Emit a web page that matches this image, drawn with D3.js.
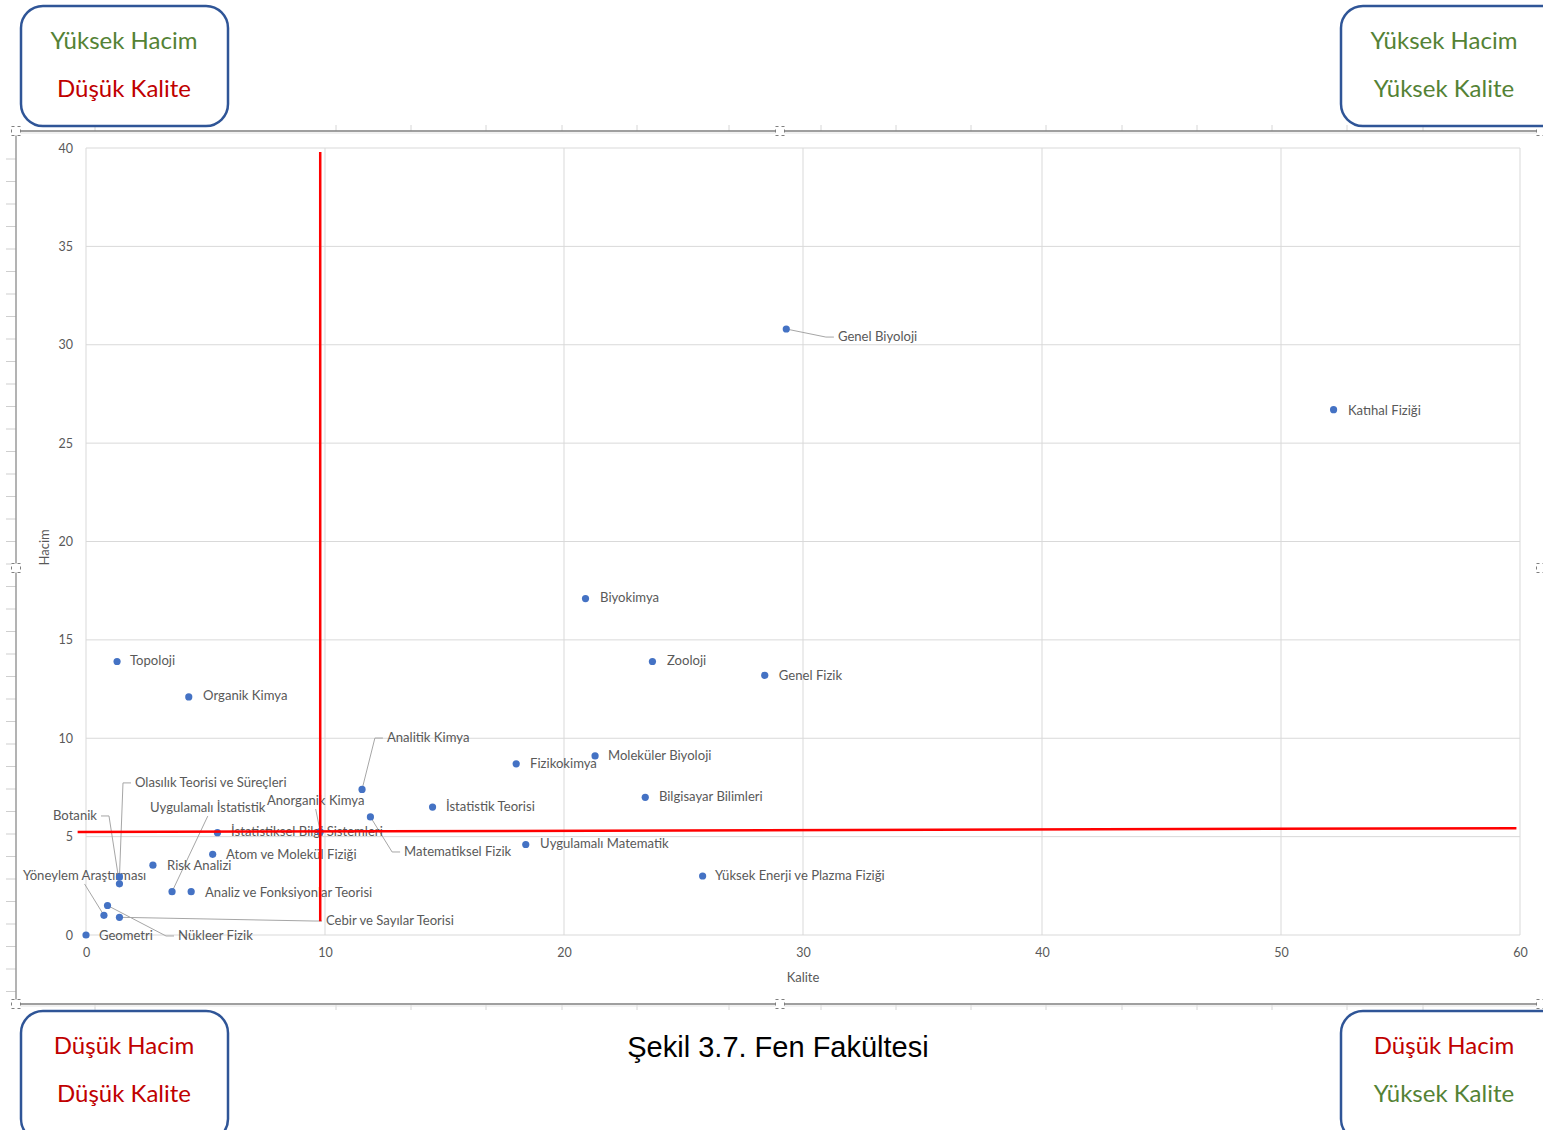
<!DOCTYPE html>
<html lang="tr">
<head>
<meta charset="utf-8">
<title>Fen Fakültesi</title>
<script src="https://cdn.jsdelivr.net/npm/d3@7"></script>
<style>
  body { margin: 0; background: #fff; }
  svg { display: block; }
</style>
</head>
<body>
<script>
// data
const names = ["Genel Biyoloji", "Katıhal Fiziği", "Biyokimya", "Topoloji", "Zooloji", "Genel Fizik",
  "Organik Kimya", "Moleküler Biyoloji", "Fizikokimya", "Analitik Kimya", "Bilgisayar Bilimleri",
  "İstatistik Teorisi", "Matematiksel Fizik", "İstatistiksel Bilgi Sistemleri", "Uygulamalı Matematik",
  "Atom ve Molekül Fiziği", "Risk Analizi", "Yüksek Enerji ve Plazma Fiziği", "Analiz ve Fonksiyonlar Teorisi",
  "Uygulamalı İstatistik", "Anorganik Kimya", "Cebir ve Sayılar Teorisi", "Nükleer Fizik", "Geometri",
  "Botanik", "Olasılık Teorisi ve Süreçleri", "Yöneylem Araştırması"]
const kalite = [29.3, 52.2, 20.9, 1.3, 23.7, 28.4, 4.3, 21.3, 18.0, 11.55, 23.4, 14.5, 11.9, 5.5, 18.4,
  5.3, 2.8, 25.8, 4.4, 3.6, 9.8, 1.4, 0.9, 0, 1.4, 1.4, 0.75]
const hacim = [30.8, 26.7, 17.1, 13.9, 13.9, 13.2, 12.1, 9.1, 8.7, 7.4, 7.0, 6.5, 6.0, 5.2, 4.6,
  4.1, 3.55, 3.0, 2.2, 2.2, 5.25, 0.9, 1.5, 0, 2.6, 2.95, 1.0]

const xTicks = [0, 10, 20, 30, 40, 50, 60]
const yTicks = [0, 5, 10, 15, 20, 25, 30, 35, 40]
const avgKalite = 9.8       // vertical red line
const avgHacim = [5.23, 5.43] // horizontal red line, left and right end

const corners = [
  {lines: ["Yüksek Hacim", "Düşük Kalite"], good: [true, false]},
  {lines: ["Yüksek Hacim", "Yüksek Kalite"], good: [true, true]},
  {lines: ["Düşük Hacim", "Düşük Kalite"], good: [false, false]},
  {lines: ["Düşük Hacim", "Yüksek Kalite"], good: [false, true]}
]
const caption = "Şekil 3.7. Fen Fakültesi"

// label layout (data units) and where the leader line joins the label
const labelX = [31.46, 52.8, 21.51, 1.84, 24.31, 28.99, 4.9, 21.84, 18.58, 12.59, 23.97, 15.06, 13.31, 6.07, 19.0,
  5.86, 3.39, 26.32, 4.98, 2.68, 7.57, 10.04, 3.85, 0.54, 0.46, 2.05, -2.64]
const labelY = [30.39, 26.63, 17.13, 13.93, 13.93, 13.16, 12.15, 9.1, 8.69, 10.01, 7.01, 6.51, 4.22, 5.24, 4.63,
  4.07, 3.51, 3.0, 2.13, 6.45, 6.81, 0.71, -0.05, -0.05, 6.05, 7.73, 3.0]
const leader = ["left", "", "", "", "", "", "", "", "", "left", "", "", "left", "", "",
  "", "", "", "", "bottom", "bottom", "left", "left", "", "right", "left", "bottom"]

const W = 1543, H = 1130
const green = "#548235", red = "#c00000", blue = "#2f5597"
const txt = "#595959"
const font = "Lato, 'Open Sans', sans-serif"

const svg = d3.select("body").append("svg").attr("width", W).attr("height", H)

const x = d3.scaleLinear().domain([0, 60]).range([86, 1520])
const y = d3.scaleLinear().domain([0, 40]).range([935, 148])

// frame of the pasted chart
const frame = svg.append("g")
const topTicks = [95, 336, 411, 486, 562, 637, 729, 821, 896, 971, 1046, 1122, 1197, 1272, 1347, 1423]
frame.selectAll(".tt").data(topTicks).enter().append("line")
  .attr("x1", d => d).attr("x2", d => d).attr("y1", 125).attr("y2", 131)
  .attr("stroke", "#d6d6d6")
frame.selectAll(".bt").data(topTicks).enter().append("line")
  .attr("x1", d => d).attr("x2", d => d).attr("y1", 1005).attr("y2", 1010)
  .attr("stroke", "#d6d6d6")
frame.selectAll(".rt").data(d3.range(159, 1000, 22.5)).enter().append("line")
  .attr("x1", 6).attr("x2", 16).attr("y1", d => d).attr("y2", d => d)
  .attr("stroke", "#cfcfcf")
frame.append("line").attr("x1", 16).attr("x2", W).attr("y1", 133).attr("y2", 133).attr("stroke", "#e3e3e3")
frame.append("line").attr("x1", 16).attr("x2", W).attr("y1", 1006).attr("y2", 1006).attr("stroke", "#e3e3e3")
frame.append("line").attr("x1", 16).attr("x2", W).attr("y1", 131).attr("y2", 131).attr("stroke", "#7f7f7f").attr("stroke-width", 1.5)
frame.append("line").attr("x1", 16).attr("x2", W).attr("y1", 1004).attr("y2", 1004).attr("stroke", "#7f7f7f").attr("stroke-width", 1.5)
frame.append("line").attr("x1", 16).attr("x2", 16).attr("y1", 131).attr("y2", 1004).attr("stroke", "#9a9a9a").attr("stroke-width", 1.5)

// gridlines
const grid = svg.append("g")
grid.selectAll(".gx").data(xTicks).enter().append("line")
  .attr("x1", d => x(d)).attr("x2", d => x(d)).attr("y1", y(40)).attr("y2", y(0))
  .attr("stroke", "#d9d9d9")
grid.selectAll(".gy").data(yTicks).enter().append("line")
  .attr("x1", x(0)).attr("x2", x(60)).attr("y1", d => y(d)).attr("y2", d => y(d))
  .attr("stroke", "#d9d9d9")

// axes (labels only, like Excel)
const xAxis = svg.append("g").attr("transform", `translate(0, ${y(0) + 18})`)
  .call(d3.axisBottom(x).tickValues(xTicks).tickSize(0).tickPadding(0))
const yAxis = svg.append("g").attr("transform", `translate(${x(0) - 13}, 0)`)
  .call(d3.axisLeft(y).tickValues(yTicks).tickSize(0).tickPadding(0))
;[xAxis, yAxis].forEach(a => {
  a.select(".domain").remove()
  a.selectAll("text").attr("fill", txt).style("font-family", font).style("font-size", "12.5px")
})
xAxis.selectAll("text").attr("dy", "0.32em")

svg.append("text").attr("x", x(30)).attr("y", 978).attr("dy", "0.32em")
  .attr("text-anchor", "middle").attr("fill", txt)
  .style("font-family", font).style("font-size", "13px").text("Kalite")
svg.append("text").attr("transform", `translate(45, ${y(19.7)}) rotate(-90)`).attr("dy", "0.32em")
  .attr("text-anchor", "middle").attr("fill", txt)
  .style("font-family", font).style("font-size", "13px").text("Hacim")

const data = names.map((n, i) => ({
  name: n, k: kalite[i], h: hacim[i], lx: labelX[i], ly: labelY[i], side: leader[i]
}))

// labels first so we can measure them for the leader lines
const leaders = svg.append("g")
const labels = svg.append("g").selectAll("text").data(data).enter().append("text")
  .attr("x", d => x(d.lx)).attr("y", d => y(d.ly)).attr("dy", "0.32em")
  .attr("text-anchor", d => d.side === "right" ? "end" : "start")
  .attr("fill", txt).style("font-family", font).style("font-size", "13.1px")
  .text(d => d.name)

labels.each(function(d) {
  const w = this.getComputedTextLength()
  const px = x(d.k), py = y(d.h), lx = x(d.lx), ly = y(d.ly)
  let pts = null
  if (d.side === "left") pts = [[px, py], [lx - 12, ly], [lx - 4, ly]]
  if (d.side === "right") pts = [[px, py], [lx + 12, ly], [lx + 4, ly]]
  if (d.side === "bottom") pts = [[px, py], [lx + w / 2, ly + 8]]
  if (pts) leaders.append("path").attr("d", d3.line()(pts))
    .attr("fill", "none").attr("stroke", "#a6a6a6").attr("stroke-width", 1)
})

svg.append("g").selectAll("circle").data(data).enter().append("circle")
  .attr("cx", d => x(d.k)).attr("cy", d => y(d.h)).attr("r", 3.6)
  .attr("fill", "#4472c4")

// hand-drawn red dividers
svg.append("line").attr("x1", x(avgKalite)).attr("x2", x(avgKalite)).attr("y1", y(39.8)).attr("y2", y(0.7))
  .attr("stroke", "#ff0000").attr("stroke-width", 2.5)
svg.append("line").attr("x1", x(-0.35)).attr("x2", x(59.85)).attr("y1", y(avgHacim[0])).attr("y2", y(avgHacim[1]))
  .attr("stroke", "#ff0000").attr("stroke-width", 2.5)

// selection handles
const handles = [[16, 131], [780, 131], [1541, 131], [16, 568], [1541, 568], [16, 1004], [780, 1004], [1541, 1004]]
svg.append("g").selectAll("rect").data(handles).enter().append("rect")
  .attr("x", d => d[0] - 4.5).attr("y", d => d[1] - 4.5).attr("width", 9).attr("height", 9)
  .attr("fill", "#fff").attr("stroke", "#7f7f7f").attr("stroke-dasharray", "3,3")

// corner boxes
const boxPos = [[21, 6], [1341, 6], [21, 1011], [1341, 1011]]
const boxes = svg.append("g").selectAll("g").data(corners).enter().append("g")
  .attr("transform", (d, i) => `translate(${boxPos[i][0]}, ${boxPos[i][1]})`)
boxes.append("rect").attr("width", (d, i) => i % 2 ? 230 : 207).attr("height", (d, i) => i < 2 ? 120 : 130)
  .attr("rx", 22).attr("fill", "#fff").attr("stroke", blue).attr("stroke-width", 2.5)
boxes.each(function(d, i) {
  d3.select(this).selectAll("text").data(d.lines).enter().append("text")
    .attr("x", 103).attr("y", (t, j) => 35 + j * 48).attr("dy", "0.35em")
    .attr("text-anchor", "middle")
    .attr("fill", (t, j) => d.good[j] ? green : red)
    .style("font-family", font).style("font-size", "24px")
    .text(t => t)
})

svg.append("text").attr("x", 778).attr("y", 1047).attr("dy", "0.35em")
  .attr("text-anchor", "middle").attr("fill", "#000")
  .style("font-family", "'Liberation Sans', Arial, sans-serif").style("font-size", "29px")
  .text(caption)
</script>
</body>
</html>
